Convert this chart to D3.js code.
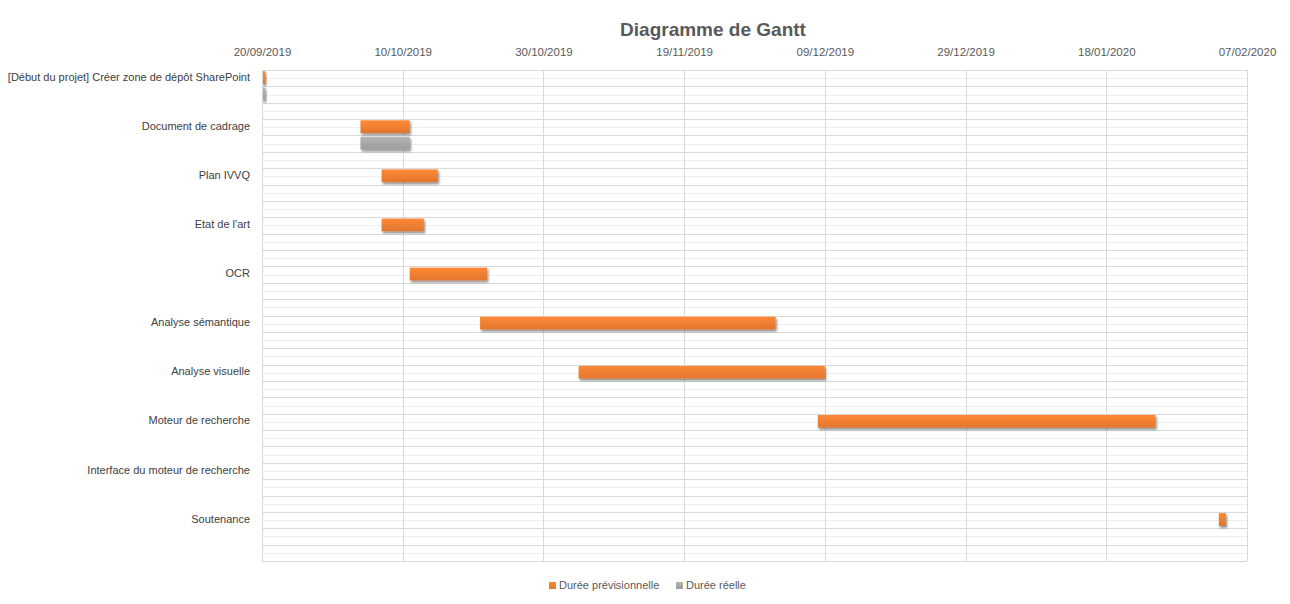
<!DOCTYPE html>
<html>
<head>
<meta charset="utf-8">
<script src="https://cdn.jsdelivr.net/npm/d3@7"></script>
<style>
  html, body { margin: 0; padding: 0; background: #fff; }
  svg { display: block; font-family: "Liberation Sans", Arial, sans-serif; }
</style>
</head>
<body>
<svg id="chart" width="1290" height="604"></svg>
<script>
// ---- Data ----
const tasks = [
  "[Début du projet] Créer zone de dépôt SharePoint",
  "Document de cadrage",
  "Plan IVVQ",
  "Etat de l'art",
  "OCR",
  "Analyse sémantique ",
  "Analyse visuelle",
  "Moteur de recherche",
  "Interface du moteur de recherche",
  "Soutenance"
];
const startDates = [
  "2019-09-20", "2019-10-04", "2019-10-07", "2019-10-07", "2019-10-11",
  "2019-10-21", "2019-11-04", "2019-12-08", null, "2020-02-03"
];
const plannedDays = [0.5, 7, 8, 6, 11, 42, 35, 48, null, 1];
const actualDays  = [0.5, 7, null, null, null, null, null, null, null, null];
const tickDates = ["2019-09-20", "2019-10-10", "2019-10-30", "2019-11-19",
                   "2019-12-09", "2019-12-29", "2020-01-18", "2020-02-07"];
const seriesNames = ["Durée prévisionnelle", "Durée réelle"];
const seriesColors = ["#ED7D31", "#A5A5A5"];
const titleText = "Diagramme de Gantt";

// ---- Layout ----
const svg = d3.select("#chart");
const plot = { left: 262, right: 1247, top: 70, bottom: 561 };
const parse = d3.utcParse("%Y-%m-%d");
const DAY = 86400000;

const x = d3.scaleUtc()
  .domain([parse(tickDates[0]), parse(tickDates[tickDates.length - 1])])
  .range([plot.left, plot.right]);

const rowsPerTask = 3;
const rows = d3.range(tasks.length * rowsPerTask);
const y = d3.scaleBand().domain(rows).range([plot.top, plot.bottom]).padding(0);
const bh = y.bandwidth();

// defs: gradients and shadow
const defs = svg.append("defs");
seriesColors.forEach((c, i) => {
  const g = defs.append("linearGradient").attr("id", "grad" + i)
    .attr("x1", 0).attr("y1", 0).attr("x2", 0).attr("y2", 1);
  g.append("stop").attr("offset", "0%").attr("stop-color", d3.color(c).brighter(0.25));
  g.append("stop").attr("offset", "100%").attr("stop-color", d3.color(c).darker(0.15));
});
const f = defs.append("filter").attr("id", "shadow")
  .attr("x", "-20%").attr("y", "-30%").attr("width", "150%").attr("height", "180%");
f.append("feDropShadow").attr("dx", 1.2).attr("dy", 2).attr("stdDeviation", 1.1)
  .attr("flood-color", "#000").attr("flood-opacity", 0.45);

// Title
svg.append("text")
  .attr("x", 713).attr("y", 36)
  .attr("text-anchor", "middle")
  .attr("font-size", 19).attr("font-weight", "bold")
  .attr("fill", "#595959")
  .text(titleText);

// Minor horizontal gridlines
const grid = svg.append("g");
grid.selectAll("line.minor").data(rows).join("line")
  .attr("x1", plot.left).attr("x2", plot.right)
  .attr("y1", d => Math.round(y(d) + bh / 2) + 0.5)
  .attr("y2", d => Math.round(y(d) + bh / 2) + 0.5)
  .attr("stroke", "#EEEEEE").attr("stroke-width", 1);
// Major horizontal gridlines
grid.selectAll("line.major").data(rows.concat([rows.length])).join("line")
  .attr("x1", plot.left).attr("x2", plot.right)
  .attr("y1", d => Math.round(d < rows.length ? y(d) : plot.bottom) + 0.5)
  .attr("y2", d => Math.round(d < rows.length ? y(d) : plot.bottom) + 0.5)
  .attr("stroke", "#D9D9D9").attr("stroke-width", 1);

// Vertical gridlines + top axis labels
const ticks = tickDates.map(parse);
grid.selectAll("line.v").data(ticks).join("line")
  .attr("x1", d => Math.round(x(d)) + 0.5).attr("x2", d => Math.round(x(d)) + 0.5)
  .attr("y1", plot.top).attr("y2", plot.bottom)
  .attr("stroke", "#D9D9D9").attr("stroke-width", 1);

const xAxis = d3.axisTop(x).tickValues(ticks).tickFormat(d3.utcFormat("%d/%m/%Y")).tickSize(0).tickPadding(0);
const gx = svg.append("g").attr("transform", `translate(0,${plot.top - 14})`).call(xAxis);
gx.select(".domain").remove();
gx.selectAll("text").attr("font-size", 11.5).attr("fill", "#595959")
  .attr("font-family", "Liberation Sans, Arial, sans-serif");

// Category labels
const yAxis = d3.axisLeft(y).tickValues(tasks.map((t, i) => i * rowsPerTask))
  .tickFormat(i => tasks[i / rowsPerTask]).tickSize(0).tickPadding(0);
const gy = svg.append("g").attr("transform", `translate(${plot.left - 12},-1)`).call(yAxis);
gy.select(".domain").remove();
gy.selectAll("text").attr("font-size", 11).attr("fill", "#404040")
  .attr("font-family", "Liberation Sans, Arial, sans-serif");

// Bars
const barData = [];
tasks.forEach((t, i) => {
  if (!startDates[i]) return;
  const s = parse(startDates[i]);
  if (plannedDays[i] != null) barData.push({ row: i * rowsPerTask, s, d: plannedDays[i], k: 0 });
  if (actualDays[i] != null) barData.push({ row: i * rowsPerTask + 1, s, d: actualDays[i], k: 1 });
});
svg.append("g").selectAll("rect").data(barData).join("rect")
  .attr("x", d => x(d.s))
  .attr("y", d => y(d.row) + 1.2)
  .attr("width", d => x(new Date(+d.s + d.d * DAY)) - x(d.s))
  .attr("height", bh * 0.78)
  .attr("fill", d => `url(#grad${d.k})`)
  .attr("filter", "url(#shadow)");

// Left axis line
svg.append("line")
  .attr("x1", plot.left + 0.5).attr("x2", plot.left + 0.5)
  .attr("y1", plot.top).attr("y2", plot.bottom)
  .attr("stroke", "#D9D9D9");

// Legend
const legend = svg.append("g");
const legendItems = [{ x: 549, k: 0 }, { x: 676, k: 1 }];
legendItems.forEach(it => {
  legend.append("rect").attr("x", it.x).attr("y", 582).attr("width", 7).attr("height", 7)
    .attr("fill", `url(#grad${it.k})`);
  legend.append("text").attr("x", it.x + 10).attr("y", 589)
    .attr("font-size", 11).attr("fill", "#595959")
    .text(seriesNames[it.k]);
});
</script>
</body>
</html>
